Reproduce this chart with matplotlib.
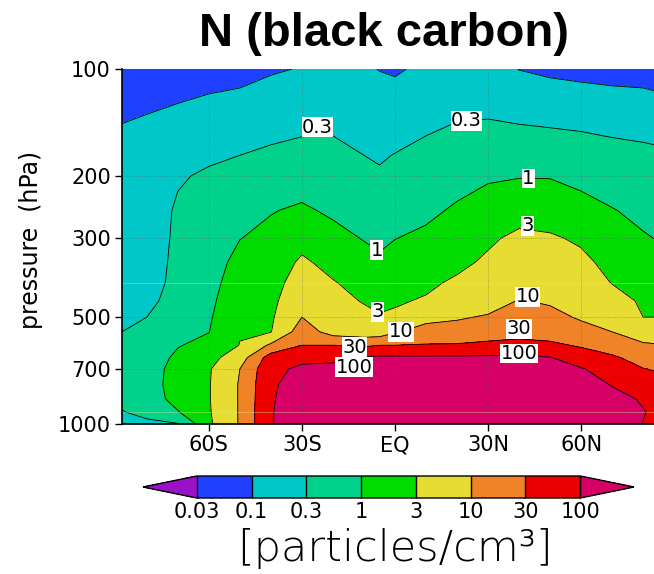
import numpy as np
import matplotlib
matplotlib.use("Agg")
from matplotlib import pyplot as plt
import matplotlib.transforms as mtransforms

# latitude (deg, S negative) and pressure levels (hPa)
lat = [-88, -80, -70, -60, -50, -40, -30, -20, -10, -5, 0, 10, 20, 30, 40, 50, 60, 70, 80, 84]
pres = [100, 125, 150, 175, 200, 250, 300, 350, 400, 450, 500, 550, 600, 650, 700, 775, 850, 925, 1000]

# number concentration of black carbon [particles/cm3], one row per latitude (top -> surface)
n_bc = [
    [0.05, 0.08, 0.11, 0.13, 0.14, 0.16, 0.18, 0.2, 0.22, 0.25, 0.28, 0.3, 0.38, 0.45, 0.5, 0.5, 0.42, 0.28, 0.09],
    [0.06, 0.09, 0.12, 0.15, 0.17, 0.2, 0.21, 0.22, 0.23, 0.25, 0.3, 0.4, 0.5, 0.6, 0.65, 0.65, 0.6, 0.45, 0.22],
    [0.07, 0.1, 0.16, 0.2, 0.28, 0.33, 0.34, 0.35, 0.36, 0.4, 0.55, 0.8, 0.95, 1.2, 1.4, 1.5, 1.4, 0.95, 0.28],
    [0.08, 0.11, 0.2, 0.27, 0.33, 0.42, 0.5, 0.6, 0.68, 0.78, 0.88, 0.98, 1.3, 2.0, 2.7, 2.8, 2.8, 2.7, 2.5],
    [0.09, 0.11, 0.2, 0.3, 0.45, 0.7, 0.98, 1.4, 1.8, 2.2, 2.6, 2.8, 3.1, 6, 10, 11, 11, 11, 11],
    [0.09, 0.17, 0.25, 0.35, 0.55, 0.95, 1.3, 1.7, 2.0, 2.3, 2.6, 2.9, 12, 50, 70, 80, 85, 90, 90],
    [0.105, 0.18, 0.27, 0.45, 0.65, 1.15, 2.2, 3.5, 5, 7, 10, 18, 30, 70, 130, 200, 250, 270, 270],
    [0.12, 0.2, 0.28, 0.42, 0.55, 0.85, 1.4, 2.2, 3.2, 4.2, 5.5, 6.5, 30, 75, 140, 220, 260, 280, 280],
    [0.11, 0.16, 0.22, 0.3, 0.38, 0.6, 0.95, 1.5, 2.1, 2.8, 4, 5.5, 25, 110, 180, 250, 280, 290, 290],
    [0.098, 0.14, 0.2, 0.27, 0.34, 0.5, 0.8, 1.2, 1.8, 2.5, 3.2, 5.5, 30, 120, 190, 250, 280, 290, 290],
    [0.09, 0.15, 0.22, 0.31, 0.4, 0.6, 0.98, 1.5, 2.1, 2.7, 3.5, 9, 30, 120, 190, 250, 280, 290, 290],
    [0.12, 0.2, 0.28, 0.42, 0.55, 0.8, 1.25, 1.9, 2.5, 3.3, 7, 16, 32, 120, 190, 250, 280, 290, 290],
    [0.15, 0.23, 0.35, 0.5, 0.7, 1.15, 1.6, 2.4, 3.5, 6, 9, 15, 33, 120, 190, 250, 280, 290, 290],
    [0.16, 0.26, 0.34, 0.55, 0.9, 1.5, 2.6, 3.5, 4.5, 6.5, 11, 18, 38, 120, 190, 240, 270, 280, 280],
    [0.098, 0.2, 0.35, 0.6, 0.95, 2.1, 3.7, 5, 7, 10.5, 15, 22, 40, 120, 190, 230, 260, 270, 270],
    [0.085, 0.17, 0.33, 0.55, 0.95, 1.9, 3.4, 5, 7, 9, 13, 20, 36, 105, 170, 210, 230, 240, 240],
    [0.08, 0.15, 0.3, 0.48, 0.75, 1.5, 2.6, 3.8, 5.2, 7, 9, 14, 27, 50, 110, 170, 200, 210, 200],
    [0.075, 0.14, 0.27, 0.42, 0.6, 1.05, 1.6, 2.2, 2.9, 4.5, 7, 10, 18, 35, 55, 95, 140, 150, 140],
    [0.075, 0.13, 0.25, 0.38, 0.5, 0.78, 1.1, 1.6, 2.1, 2.6, 3, 5, 12, 20, 31, 55, 90, 105, 98],
    [0.07, 0.125, 0.24, 0.36, 0.48, 0.75, 0.98, 1.5, 2.0, 2.5, 3, 5, 11, 18, 28, 45, 70, 85, 80],
]

levels = [0.03, 0.1, 0.3, 1, 3, 10, 30, 100]
level_labels = ["0.03", "0.1", "0.3", "1", "3", "10", "30", "100"]
colors = ["#9a12c8", "#1f40ff", "#00c8c8", "#00d28c", "#00dc00",
          "#e6dc32", "#f08228", "#ee0000", "#d70066"]

lat_ticks = [-60, -30, 0, 30, 60]
lat_labels = ["60S", "30S", "EQ", "30N", "60N"]
p_ticks = [100, 200, 300, 500, 700, 1000]

# contour labels (lat, hPa) and a small vertical nudge (pixels)
label_pos = [(-25, 150), (23, 137), (43, 198), (-5.5, 320), (43, 272), (-5.5, 480),
             (43, 440), (2, 550), (40, 570), (-13, 603), (40, 635), (-13, 660)]
label_dy = [9, 0, 0, 0, 4, 0, 4, 0, 10, -1, 2, -9]

logn = np.log10(np.array(n_bc)).T
loglev = np.log10(levels)

fig = plt.figure(figsize=(6.54, 5.74), dpi=100)
ax = fig.add_axes([122/654, 1-424/574, 1-122/654, (424-69)/574])

cf = ax.contourf(lat, pres, logn, levels=loglev, colors=colors, extend="both")
cs = ax.contour(lat, pres, logn, levels=loglev, colors="k", linewidths=0.6,
                linestyles="solid")

ax.set_yscale("log")
ax.set_ylim(1000, 100)
ax.set_xlim(-88, 83.5)
ax.set_yticks(p_ticks)
ax.set_yticklabels([str(p) for p in p_ticks])
ax.minorticks_off()
ax.set_xticks(lat_ticks)
ax.set_xticklabels(lat_labels)
ax.tick_params(labelsize=15, length=5, width=1, pad=3)
for s in ["top", "right"]:
    ax.spines[s].set_visible(False)
for s in ["left", "bottom"]:
    ax.spines[s].set_linewidth(1.2)

for p in p_ticks[1:-1]:
    ax.axhline(p, color="0.35", lw=0.6, ls=":", alpha=0.6)
for x in lat_ticks:
    ax.axvline(x, color="0.35", lw=0.6, ls=":", alpha=0.6)
for p in [400, 925]:
    ax.axhline(p, color="#d8f080", lw=0.7, alpha=0.4)

fmt = {lv: s for lv, s in zip(cs.levels, level_labels)}
txts = ax.clabel(cs, levels=cs.levels, manual=label_pos, inline=False, fmt=fmt, fontsize=14)
for t, dy in zip(txts, label_dy):
    t.set_rotation(0)
    t.set_bbox(dict(facecolor="white", edgecolor="none", pad=0.3))
    t.set_transform(mtransforms.offset_copy(t.get_transform(), fig=fig, y=dy, units="dots"))

cax = fig.add_axes([143/654, 1-498/574, 491/654, 22/574])
cb = fig.colorbar(cf, cax=cax, orientation="horizontal", ticks=loglev,
                  drawedges=True, extendfrac=0.14)
cb.set_ticklabels(level_labels)
cb.ax.tick_params(length=0, labelsize=15, pad=3)
cb.outline.set_linewidth(1.0)
cb.dividers.set_linewidth(1.0)

fig.text(0.587, 0.94, "N (black carbon)", fontsize=34, fontweight="bold",
         family="Liberation Sans", ha="center", va="center")
fig.text(0.047, 0.582, "pressure  (hPa)", fontsize=17, rotation=90, ha="center", va="center")
fig.text(0.604, 0.045, "[particles/cm³]", fontsize=31, fontweight="light", ha="center", va="center")

fig.savefig("out.png", dpi=100)
